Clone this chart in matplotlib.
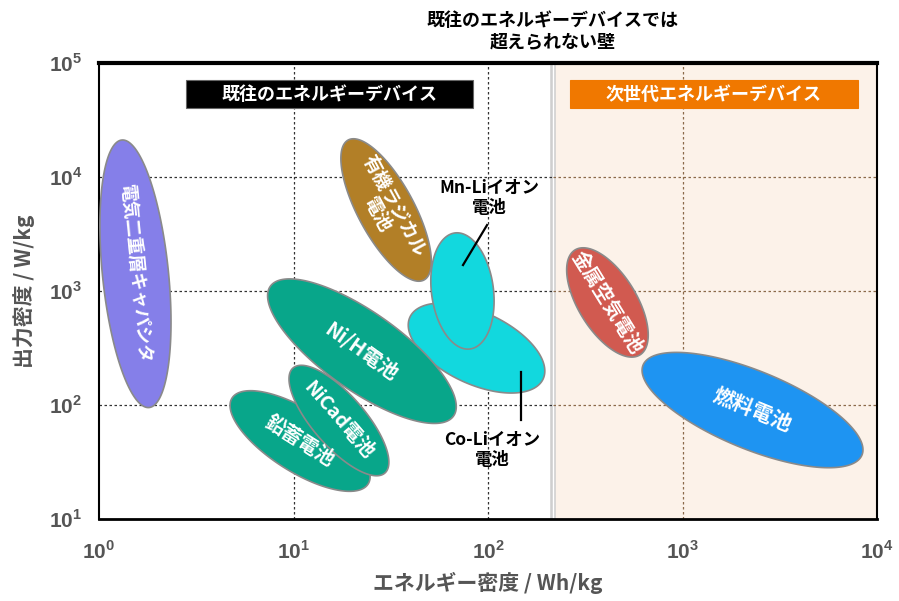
import numpy as np
import matplotlib
matplotlib.use("Agg")
import matplotlib.pyplot as plt
from matplotlib.patches import Rectangle

plt.rcParams['font.family'] = ['Noto Sans CJK JP', 'DejaVu Sans']
plt.rcParams['mathtext.fontset'] = 'custom'
plt.rcParams['mathtext.rm'] = 'Liberation Sans:bold'
plt.rcParams['mathtext.bf'] = 'Liberation Sans:bold'

# Device regions: ends of the long axis of each ellipse (energy Wh/kg, power W/kg)
names = ['電気二重層キャパシタ', '有機ラジカル\n電池', 'Co-Liイオン電池', 'Mn-Liイオン電池',
         '鉛蓄電池', 'NiCad電池', 'Ni/H電池', '金属空気電池', '燃料電池']
end1_energy = [1.31, 19.1, 39.7, 67.6, 4.83, 9.94, 7.6, 280, 627]
end1_power = [21100, 21100, 591, 3230, 115, 211, 1100, 2290, 224]
end2_energy = [1.81, 46.9, 192, 80.8, 24.2, 29.5, 66.5, 604, 8370]
end2_power = [95, 1250, 169, 310, 20.3, 25.3, 80, 275, 36.4]
show_label = [True, True, False, False, True, True, True, True, True]

# callouts for the two Li-ion cells: text point and line ends
callout_text = ['Mn-Liイオン\n電池', 'Co-Liイオン\n電池']
callout_text_e = [102, 105]
callout_text_p = [6550, 40.3]
callout_line_e = [(98.9, 74.4), (148, 148)]
callout_line_p = [(3790, 1690), (195, 73.8)]

# style per ellipse
thickness_px = [66, 56, 72, 62, 62, 52, 78, 58, 78]
colors = ['#857FE9', '#B27F27', '#12D8DE', '#12D8DE', '#08A68A', '#08A68A',
          '#08A68A', '#D15A50', '#1E94F2']
label_size = [13, 13.5, 13, 13, 14, 14, 14.5, 14, 15]

boundary = 216  # Wh/kg, wall of existing devices
x_ticks = [1, 10, 100, 1000, 10000]
y_ticks = [10, 100, 1000, 10000, 100000]

fig = plt.figure(figsize=(8.99, 6.01), dpi=100)
ax = fig.add_axes([99 / 899, 1 - 519 / 601, 778 / 899, 456 / 601])
ax.set_xscale('log')
ax.set_yscale('log')
ax.set_xlim(1, 1e4)
ax.set_ylim(10, 1e5)

# next-generation region
ax.axvspan(boundary, 1e4, color='#FCF2E9', zorder=0)
ax.axvline(boundary, color='#cfcfcf', lw=4, zorder=1)
ax.axvline(boundary, color='white', lw=1, zorder=1)

# dotted grid
for y in y_ticks[1:-1]:
    ax.plot([1, boundary], [y, y], color='#333333', ls=(0, (2, 2)), lw=0.9, zorder=1)
    ax.plot([boundary, 1e4], [y, y], color='#8B6A4A', ls=(0, (2, 2)), lw=0.9, zorder=1)
for x in x_ticks[1:-1]:
    c = '#333333' if x < boundary else '#8B6A4A'
    ax.plot([x, x], [10, 1e5], color=c, ls=(0, (2, 2)), lw=0.9, zorder=1)

fig.canvas.draw()
to_px = ax.transData
to_data = ax.transData.inverted()
t = np.linspace(0, 2 * np.pi, 200)
for i in range(len(names)):
    p1 = to_px.transform((end1_energy[i], end1_power[i]))
    p2 = to_px.transform((end2_energy[i], end2_power[i]))
    c = (p1 + p2) / 2
    d = p2 - p1
    a = np.hypot(*d) / 2
    b = thickness_px[i] / 2
    th = np.arctan2(d[1], d[0])
    xs = c[0] + a * np.cos(t) * np.cos(th) - b * np.sin(t) * np.sin(th)
    ys = c[1] + a * np.cos(t) * np.sin(th) + b * np.sin(t) * np.cos(th)
    pts = to_data.transform(np.column_stack([xs, ys]))
    ax.fill(pts[:, 0], pts[:, 1], facecolor=colors[i], edgecolor='#8a8a8a',
            lw=1.2, zorder=3 + i)
    if show_label[i]:
        rot = np.degrees(th)
        if rot > 90:
            rot -= 180
        elif rot <= -90:
            rot += 180
        cd = to_data.transform(c)
        ax.text(cd[0], cd[1], names[i], color='white', fontsize=label_size[i],
                fontweight='bold', rotation=rot, rotation_mode='anchor',
                ha='center', va='center', linespacing=1.0, zorder=20)

for k in range(len(callout_text)):
    ax.plot(callout_line_e[k], callout_line_p[k], color='black', lw=1.6, zorder=25)
    ax.text(callout_text_e[k], callout_text_p[k], callout_text[k], fontsize=12.5,
            fontweight='bold', ha='center', va='center', linespacing=1.1, zorder=25)

# region boxes
ax.add_patch(Rectangle((0.112, 0.901), 0.369, 0.062, transform=ax.transAxes,
                       fc='black', ec='#666666', lw=0.8, zorder=30))
ax.text(0.112 + 0.369 / 2, 0.932, '既往のエネルギーデバイス', transform=ax.transAxes,
        color='white', fontsize=13, fontweight='bold', ha='center', va='center', zorder=31)
ax.add_patch(Rectangle((0.605, 0.901), 0.370, 0.062, transform=ax.transAxes,
                       fc='#F07800', ec='#F07800', lw=0.8, zorder=30))
ax.text(0.605 + 0.370 / 2, 0.932, '次世代エネルギーデバイス', transform=ax.transAxes,
        color='white', fontsize=13, fontweight='bold', ha='center', va='center', zorder=31)

fig.text(553 / 899, 1 - 31 / 601, '既往のエネルギーデバイスでは\n超えられない壁', fontsize=13,
         fontweight='bold', ha='center', va='center', linespacing=1.1)

# axes styling
ax.set_xticks(x_ticks)
ax.set_yticks(y_ticks)
ax.set_xticklabels([r'$10^{%d}$' % int(np.log10(v)) for v in x_ticks])
ax.set_yticklabels([r'$10^{%d}$' % int(np.log10(v)) for v in y_ticks])
ax.minorticks_off()
ax.tick_params(length=0, labelsize=15, labelcolor='#555555')
ax.tick_params(axis='x', pad=16)
ax.tick_params(axis='y', pad=12)
for s in ax.spines.values():
    s.set_color('black')
    s.set_linewidth(1.5)
ax.spines['top'].set_linewidth(3)
ax.spines['bottom'].set_linewidth(2)
ax.set_xlabel('エネルギー密度 / Wh/kg', fontsize=15, fontweight='bold', color='#555555',
              labelpad=6)
ax.set_ylabel('出力密度 / W/kg', fontsize=15, fontweight='bold', color='#555555',
              labelpad=10)

fig.savefig('out.png', dpi=100)
